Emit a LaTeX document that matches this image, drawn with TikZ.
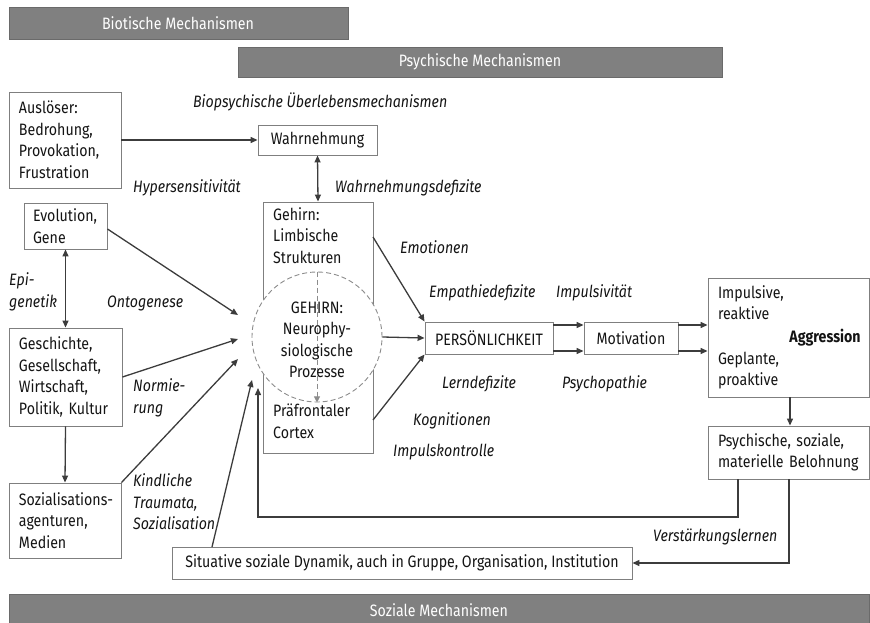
\documentclass[tikz,border=0pt]{standalone}
\usepackage{fontspec}
\setmainfont[FakeStretch=0.86]{Fira Sans}
\usetikzlibrary{arrows.meta}
\definecolor{barc}{HTML}{808080}
\definecolor{bard}{HTML}{6A6A6A}
\definecolor{boxc}{HTML}{7F7F7F}
\definecolor{arrc}{HTML}{3C3C3C}
\definecolor{txtc}{HTML}{141414}
\definecolor{dashc}{HTML}{8C8C8C}
\newcommand\myfs{\fontsize{16.5}{21.5}\selectfont}
\tikzset{
  bar/.style={draw=bard, line width=0.9pt, fill=barc},
  bartext/.style={text=white, font=\myfs, inner sep=0pt},
  bx/.style={draw=boxc, line width=0.9pt, fill=white, inner xsep=10pt, inner ysep=0pt, align=left, text=txtc, font=\myfs},
  sbx/.style={draw=boxc, line width=0.9pt, fill=white, inner sep=0pt, text=txtc, font=\myfs},
  lbl/.style={anchor=west, inner sep=0pt, text=txtc, font=\myfs\itshape, align=left},
  arr/.style={draw=arrc, line width=1.3pt, -{Triangle[length=7pt,width=6pt]}},
  darr/.style={draw=arrc, line width=1.3pt, {Triangle[length=7pt,width=6pt]}-{Triangle[length=7pt,width=6pt]}},
}
\begin{document}
\begin{tikzpicture}[x=1pt,y=-1pt]
\useasboundingbox (0,0) rectangle (870,623);
% bars
\path[bar] (9,7) rectangle (348,39);
\node[bartext] (bio) at (178,23) {Biotische Mechanismen};
\path[bar] (238,47) rectangle (722,77);
\node[bartext] (psy) at (480,62) {Psychische Mechanismen};
\path[bar] (9,594) rectangle (869,628);
\node[bartext] (soz) at (439,610) {Soziale Mechanismen};

% left column boxes
\node[bx, text width=92pt, minimum height=96pt] (aus) at (65,140) {Auslöser:\\Bedrohung,\\Provokation,\\Frustration};
\node[bx, text width=65pt, inner xsep=9pt, minimum height=46pt] (evo) at (65.5,226) {Evolution,\\Gene};
\node[bx, text width=93pt, minimum height=98pt] (ges) at (65.5,377) {Geschichte,\\Gesellschaft,\\Wirtschaft,\\Politik, Kultur};
\node[bx, text width=92pt, minimum height=75pt] (sozag) at (65,520.5) {\hbox{Sozialisations-}\\agenturen,\\Medien};

% center
\node[sbx, minimum width=119pt, minimum height=30pt] (wahr) at (317.5,140) {Wahrnehmung};
\node[draw=boxc, line width=0.9pt, fill=white, minimum width=110pt, minimum height=251pt, inner sep=0pt] (geh) at (318,327.5) {};
\node[lbl, anchor=north west, font=\myfs] (gehtop) at (273,207) {Gehirn:\\Limbische\\Strukturen};
\node[lbl, anchor=north west, font=\myfs] (gehbot) at (273,404) {Präfrontaler\\Cortex};
\node[circle, draw=dashc, dashed, dash pattern=on 5pt off 3pt, line width=0.9pt, fill=white, minimum size=130pt, inner sep=0pt] (circ) at (317,337) {};
\draw[draw=dashc, line width=0.9pt, dash pattern=on 5pt off 3pt, -{Triangle[length=6pt,width=6pt]}] (circ.north) -- (circ.south);
\node[inner sep=0pt, align=center, text=txtc, font=\myfs] (neuro) at (317,340) {GEHIRN:\\Neurophy-\\siologische\\Prozesse};

\node[sbx, minimum width=128pt, minimum height=32pt] (pers) at (489,338) {PERSÖNLICHKEIT};
\node[sbx, minimum width=94pt, minimum height=32pt] (mot) at (631,338) {Motivation};
\node[bx, text width=141pt, minimum height=119pt] (agg) at (788.5,337.5) {Impulsive,\\reaktive\\[23pt]Geplante,\\proaktive};
\node[inner sep=0pt, text=txtc, font=\myfs\bfseries] (aggl) at (825,338) {Aggression};
\node[bx, text width=141pt, minimum height=53pt] (bel) at (788.5,452.5) {Psychische, soziale,\\materielle Belohnung};
\node[sbx, minimum width=460pt, minimum height=32pt] (sit) at (402,563) {Situative soziale Dynamik, auch in Gruppe, Organisation, Institution};

% labels
\node[lbl] (l1) at (193,102) {Biopsychische Überlebensmechanismen};
\node[lbl] (l2) at (133,188) {Hypersensitivität};
\node[lbl] (l3) at (335,188) {Wahrnehmungsdefizite};
\node[lbl] (l4) at (9,292) {Epi-\\genetik};
\node[lbl] (l5) at (107,303) {Ontogenese};
\node[lbl] (l6) at (133,398) {Normie-\\rung};
\node[lbl] (l7) at (133,502) {Kindliche\\Traumata,\\Sozialisation};
\node[lbl] (l8) at (400,247) {Emotionen};
\node[lbl] (l9) at (429,293) {Empathiedefizite};
\node[lbl] (l10) at (556,293) {Impulsivität};
\node[lbl] (l11) at (442,384) {Lerndefizite};
\node[lbl] (l12) at (562,384) {Psychopathie};
\node[lbl] (l13) at (413,421) {Kognitionen};
\node[lbl] (l14) at (393,452) {Impulskontrolle};
\node[lbl] (l15) at (653,537) {Verstärkungslernen};

% coordinates
\coordinate (t1) at (238,315);
\coordinate (t2) at (238,339);
\coordinate (t3) at (238,359);
\coordinate (t4) at (252,380);
\coordinate (s4) at (212,547);
\coordinate (gr1) at (373,237);
\coordinate (gr2) at (373,420);
\coordinate (fb1) at (738,479);
\coordinate (fb2) at (738,517);
\coordinate (fb3) at (258,517);
\coordinate (fb4) at (258,388);
\coordinate (vl1) at (789,479);
\coordinate (vl2) at (789,563);

% arrows
\draw[arr] (aus.east |- 0,140) -- (wahr.west);
\draw[darr] (wahr.south) -- (geh.north);
\draw[arr] (evo.east |- 0,229) -- (t1);
\draw[darr] (evo.south) -- (ges.north);
\draw[arr] (ges.east) -- (t2);
\draw[arr] (ges.south) -- (sozag.north);
\draw[arr] (sozag.north east) -- (t3);
\draw[arr] (s4) -- (t4);
\draw[arr] (gr1) -- (pers.north west);
\draw[arr] (circ.east) -- (pers.west);
\draw[arr] (gr2) -- (pers.south west);
\draw[arr] (pers.east |- 0,325) -- (mot.west |- 0,325);
\draw[arr] (pers.east |- 0,351) -- (mot.west |- 0,351);
\draw[arr] (mot.east |- 0,325) -- (agg.west |- 0,325);
\draw[arr] (mot.east |- 0,351) -- (agg.west |- 0,351);
\draw[arr] (agg.south -| 790,0) -- (bel.north -| 790,0);
\draw[arr] (fb1) -- (fb2) -- (fb3) -- (fb4);
\draw[arr] (vl1) -- (vl2) -- (sit.east |- vl2);
\end{tikzpicture}
\end{document}
